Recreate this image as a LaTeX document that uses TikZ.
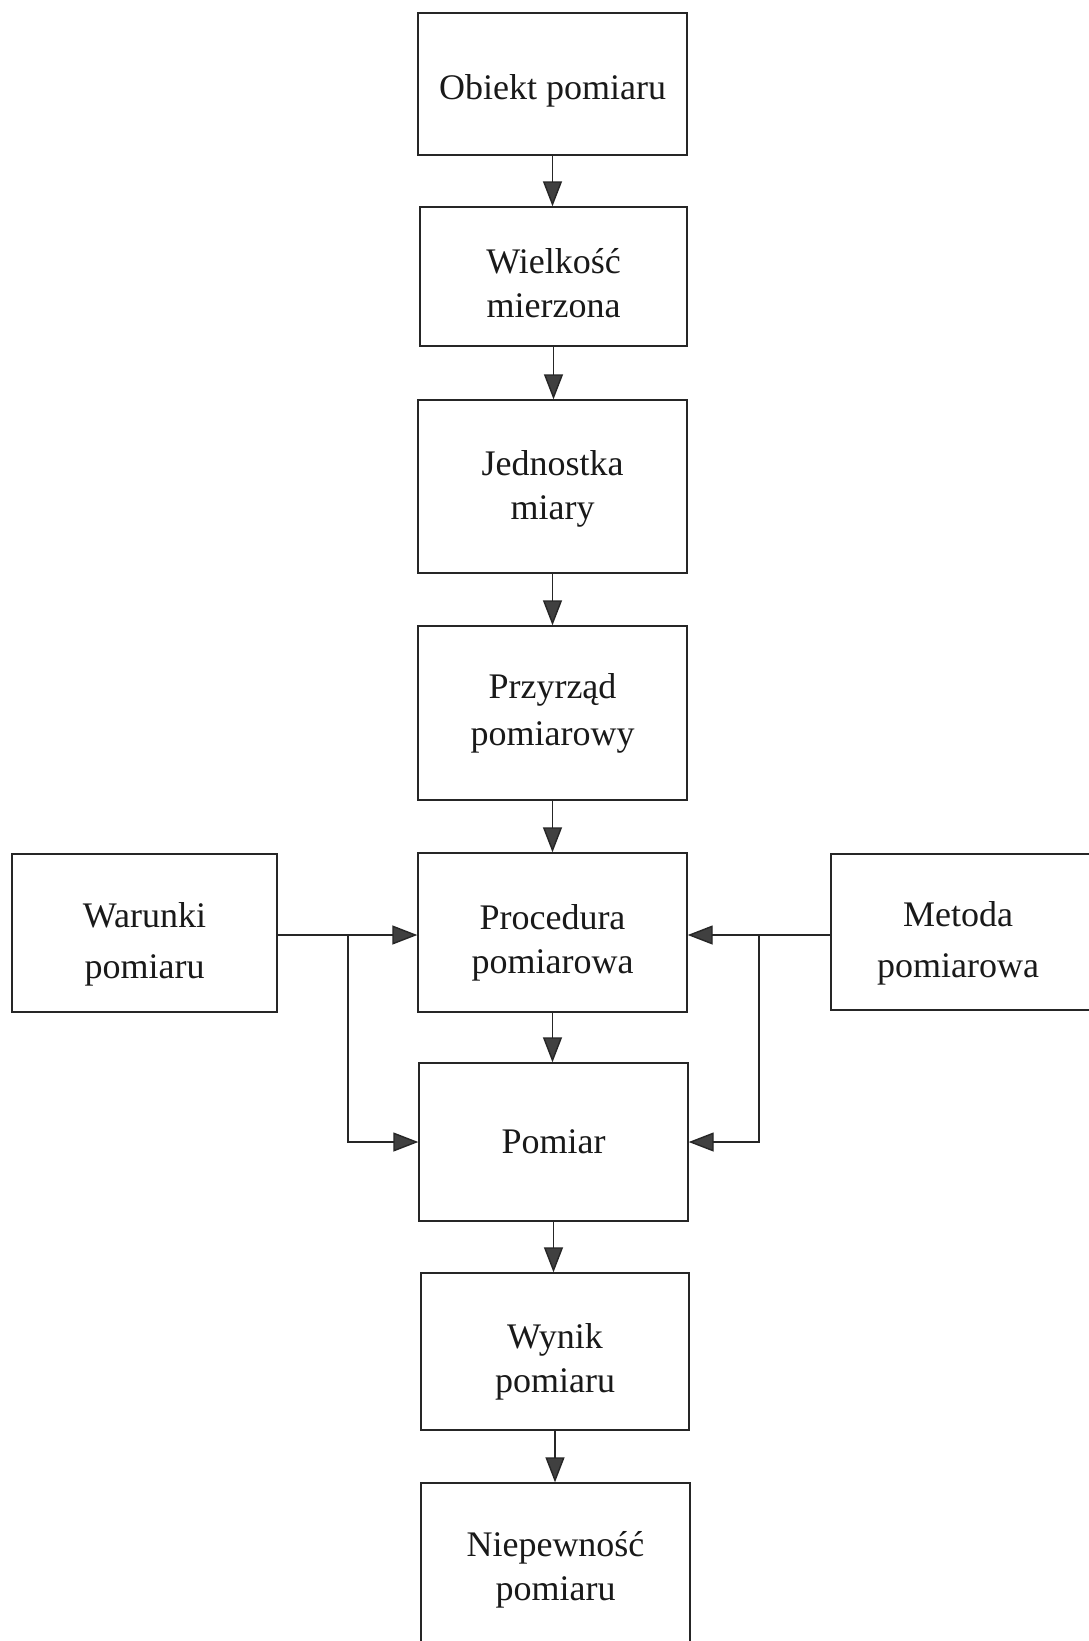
\documentclass[tikz,border=0pt]{standalone}
\usepackage{fontspec}
\setmainfont{Liberation Serif}
\usetikzlibrary{arrows.meta}
\begin{document}
\begin{tikzpicture}[x=1pt,y=-1pt,
  box/.style={draw=black!85, line width=1.4pt, inner sep=0pt},
  lbl/.style={align=center, inner sep=0pt, text=black!90,
    font=\fontsize{36}{44}\selectfont},
  lblwide/.style={lbl, font=\fontsize{36}{51}\selectfont},
  arr/.style={draw=black!85, line width=1.4pt,
    -{Triangle[length=25pt,width=19pt,fill=black!75]}}]
\useasboundingbox (0,0) rectangle (1089,1641);
\clip (0,0) rectangle (1089,1641);
\fill[white] (0,0) rectangle (1089,1641);
\node[box, minimum width=269pt, minimum height=142pt,
  label={[lbl, name=ot, yshift=-6.5pt]center:Obiekt pomiaru}] (o) at (552.5,84) {};
\node[box, minimum width=267pt, minimum height=139pt,
  label={[lbl, name=wt, yshift=-6.5pt]center:{Wielkość\\mierzona}}] (w) at (553.5,276.5) {};
\node[box, minimum width=269pt, minimum height=173pt,
  label={[lbl, name=jt, yshift=-2.5pt]center:{Jednostka\\miary}}] (j) at (552.5,486.5) {};
\node[box, minimum width=269pt, minimum height=174pt,
  label={[lbl, name=pt, font=\fontsize{36}{47}\selectfont]center:{Przyrząd\\pomiarowy}}] (p) at (552.5,713) {};
\node[box, minimum width=269pt, minimum height=159pt,
  label={[lbl, name=prt, yshift=-10pt]center:{Procedura\\pomiarowa}}] (pr) at (552.5,932.5) {};
\node[box, minimum width=269pt, minimum height=158pt,
  label={[lbl, name=pmt]center:Pomiar}] (pm) at (553.5,1142) {};
\node[box, minimum width=268pt, minimum height=157pt,
  label={[lbl, name=wyt, yshift=-10pt]center:{Wynik\\pomiaru}}] (wy) at (555,1351.5) {};
\node[box, minimum width=269pt, minimum height=167pt,
  label={[lbl, name=nt, yshift=-3pt]center:{Niepewność\\pomiaru}}] (n) at (555.5,1566.5) {};
\node[box, minimum width=265pt, minimum height=158pt,
  label={[lblwide, name=wat, yshift=-11.5pt]center:{Warunki\\pomiaru}}] (wa) at (144.5,933) {};
\node[box, minimum width=266pt, minimum height=156pt] (me) at (964,932) {};
\node[lblwide, yshift=-11pt] (met) at (958,932) {Metoda\\pomiarowa};
\coordinate (bl) at (348,935);
\coordinate (br) at (759,935);
\draw[arr] (o.south)  -- (o.south |- w.north);
\draw[arr] (w.south)  -- (w.south |- j.north);
\draw[arr] (j.south)  -- (j.south |- p.north);
\draw[arr] (p.south)  -- (p.south |- pr.north);
\draw[arr] (pr.south) -- (pr.south |- pm.north);
\draw[arr] (pm.south) -- (pm.south |- wy.north);
\draw[arr] (wy.south) -- (wy.south |- n.north);
\draw[arr] (wa.east |- bl) -- (pr.west |- bl);
\draw[arr] (bl) |- (pm.west);
\draw[arr] (me.west |- br) -- (pr.east |- br);
\draw[arr] (br) |- (pm.east);
\end{tikzpicture}
\end{document}
